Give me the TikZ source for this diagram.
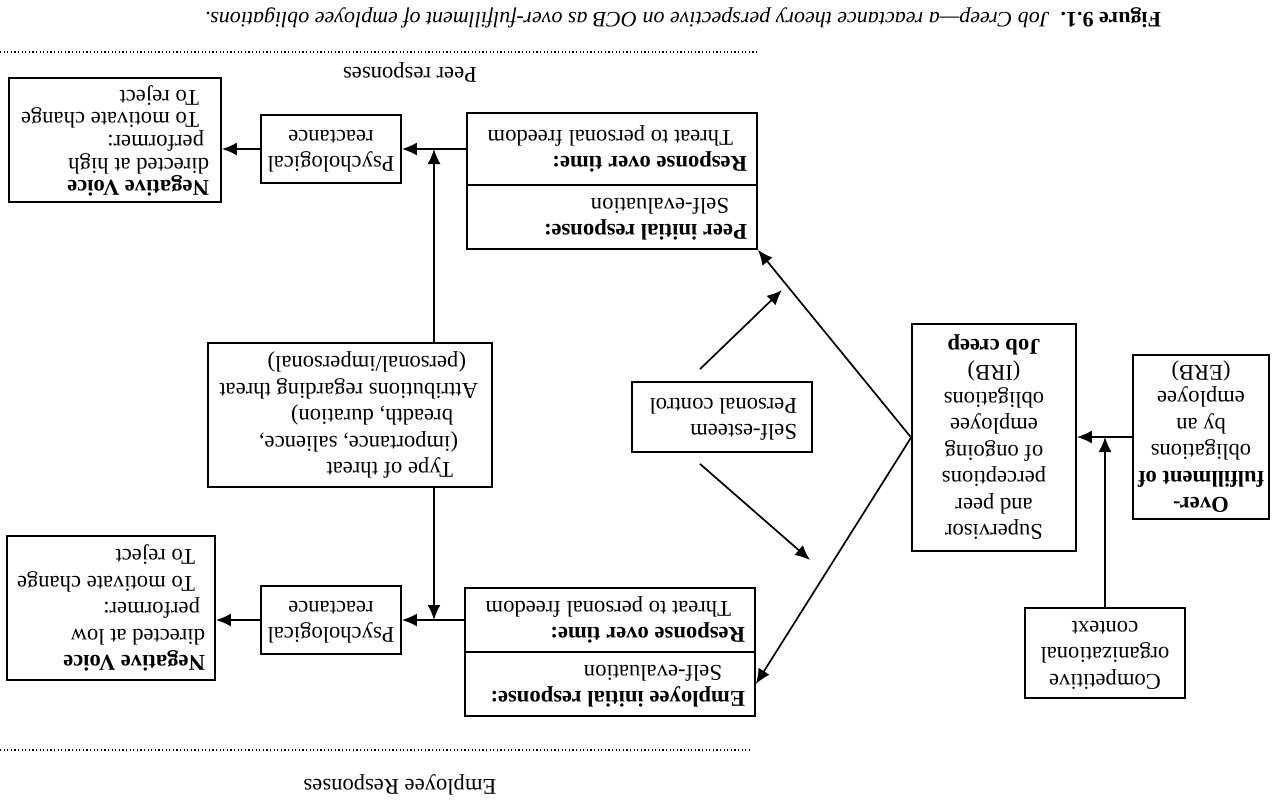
\documentclass[tikz,border=0pt]{standalone}
\usepackage{fontspec}
\setmainfont{Liberation Serif}
\usepackage{graphicx}
\usetikzlibrary{arrows.meta,calc}
\newcommand\UDc[1]{\rotatebox[origin=c]{180}{\begin{tabular}{@{}c@{}}#1\end{tabular}}}
\newcommand\UDl[2]{\rotatebox[origin=c]{180}{\makebox[#1][l]{\begin{tabular}{@{}l@{}}#2\end{tabular}}}}
\begin{document}
\begin{tikzpicture}[x=0.5pt,y=-0.5pt,
  font=\fontsize{11.3}{13.25}\selectfont,
  box/.style={draw,line width=0.9pt,inner sep=0pt},
  conn/.style={line width=0.85pt},
  arr/.style={conn,-{Latex[length=7.5pt,width=6.5pt]}},
  dots/.style={line width=1pt,dash pattern=on 0.6pt off 1.2pt}]
\useasboundingbox (0,0) rectangle (1277,803);

% title and section labels
\node[rotate=180,inner sep=0pt,font=\fontsize{11}{13}\selectfont] (title) at (683,18) {\textbf{Figure 9.1.}\enspace\textit{Job Creep---a reactance theory perspective on OCB as over-fulfillment of employee obligations.}};
\node[rotate=180,inner sep=0pt] (peerlab) at (410,72) {Peer responses};
\node[rotate=180,inner sep=0pt] (emplab) at (400,785) {Employee Responses};
\coordinate (d1a) at (0,52); \coordinate (d1b) at (757,52);
\coordinate (d2a) at (0,750); \coordinate (d2b) at (752,750);
\draw[dots] (d1a) -- (d1b);
\draw[dots] (d2a) -- (d2b);

% boxes
\node[box,minimum width=106pt,minimum height=62pt,font=\fontsize{11.3}{11.3}\selectfont] (nvh) at (115,140)
  {\UDl{94pt}{\textbf{Negative Voice}\\directed at high\\\hspace*{2.5pt}performer:\\\hspace*{5pt}To motivate change\\\hspace*{5pt}To reject}};
\node[box,minimum width=70pt,minimum height=34pt] (psyT) at (331,149)
  {\UDc{Psychological\\reactance}};
\node[box,minimum width=145pt,minimum height=36pt] (peerU) at (612,149)
  {\UDl{135pt}{\textbf{Response over time:}\\\hspace*{7pt}Threat to personal freedom}};
\node[box,minimum width=145pt,minimum height=32pt] (peerL) at (612,217)
  {\UDl{135pt}{\textbf{Peer initial response:}\\\hspace*{9pt}Self-evaluation}};
\node[box,minimum width=142pt,minimum height=72pt] (threat) at (350,415)
  {\UDl{128pt}{\hspace*{12.5pt}Type of threat\\\hspace*{10pt}(importance, salience,\\\hspace*{12.5pt}breadth, duration)\\Attributions regarding threat\\\hspace*{6pt}(personal/impersonal)}};
\node[box,minimum width=90pt,minimum height=35pt] (self) at (722,417)
  {\UDl{75pt}{Self-esteem\\Personal control}};
\node[box,minimum width=70pt,minimum height=34pt] (psyB) at (331,620)
  {\UDc{Psychological\\reactance}};
\node[box,minimum width=145pt,minimum height=32pt] (empU) at (610,620)
  {\UDl{135pt}{\textbf{Response over time:}\\\hspace*{7pt}Threat to personal freedom}};
\node[box,minimum width=145pt,minimum height=32pt] (empL) at (610,684)
  {\UDl{135pt}{\textbf{Employee initial response:}\\\hspace*{11.5pt}Self-evaluation}};
\node[box,minimum width=104pt,minimum height=72pt] (nvl) at (111,608)
  {\UDl{94pt}{\textbf{Negative Voice}\\directed at low\\\hspace*{2.5pt}performer:\\\hspace*{5pt}To motivate change\\\hspace*{5pt}To reject}};
\node[box,minimum width=82pt,minimum height=113.5pt] (sup) at (994,437.5)
  {\UDc{Supervisor\\and peer\\perceptions\\of ongoing\\employee\\obligations\\(IRB)\\\textbf{Job creep}}};
\node[box,minimum width=68pt,minimum height=82pt] (over) at (1201,437)
  {\UDc{\textbf{Over-}\\\textbf{fulfillment of}\\obligations\\by an\\employee\\(ERB)}};
\node[box,minimum width=80pt,minimum height=45pt] (comp) at (1105,653)
  {\UDc{Competitive\\organizational\\context}};

% connectors
\coordinate (xref) at (434,0);
\coordinate (jT) at (peerU.west -| xref);
\coordinate (jB) at (empU.west -| xref);
\draw[arr] (over.west) -- (over.west -| sup.east);
\draw[arr] (comp.north) -- (comp.north |- over.west);
\draw[arr] (sup.west) -- (peerL.south east);
\draw[arr] (sup.west) -- (empL.east);
\coordinate (m1s) at ($(self.north)+(-22,-12)$);
\coordinate (m1e) at (782,290);
\coordinate (m2s) at ($(self.south)+(-22,11)$);
\coordinate (m2e) at (810,560);
\draw[arr] (m1s) -- (m1e);
\draw[arr] (m2s) -- (m2e);
\draw[arr] (peerU.west) -- (peerU.west -| psyT.east);
\draw[arr] (psyT.west) -- (psyT.west -| nvh.east);
\draw[arr] (empU.west) -- (empU.west -| psyB.east);
\draw[arr] (psyB.west) -- (psyB.west -| nvl.east);
\draw[arr] (threat.north -| xref) -- (jT);
\draw[arr] (threat.south -| xref) -- (jB);
\end{tikzpicture}
\end{document}
